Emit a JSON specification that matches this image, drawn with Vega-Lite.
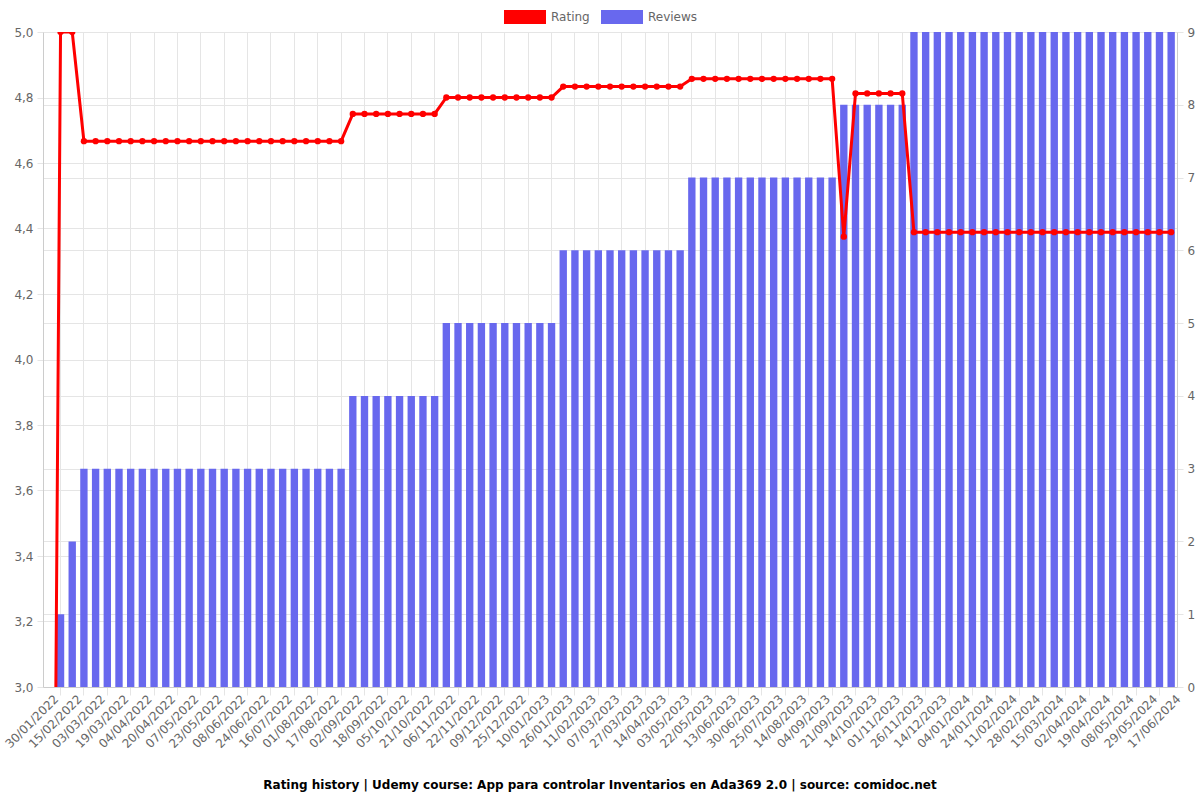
{
  "$schema": "https://vega.github.io/schema/vega-lite/v6.json",
  "width": 1134,
  "height": 655,
  "autosize": {"type": "none"},
  "padding": {"left": 43, "top": 32, "right": 23, "bottom": 113},
  "background": "white",
  "config": {
    "font": "DejaVu Sans",
    "view": {"stroke": null},
    "axis": {"labelFont": "DejaVu Sans", "labelFontSize": 12, "labelColor": "#666666", "gridColor": "#e5e5e5", "tickColor": "#e5e5e5", "domainColor": "#cccccc", "title": null}
  },
  "title": {
    "text": "Rating history | Udemy course: App para controlar Inventarios en Ada369 2.0 | source: comidoc.net",
    "orient": "bottom", "anchor": "middle", "fontSize": 12, "fontWeight": "bold", "color": "#000000", "offset": 30, "dx": -10, "font": "DejaVu Sans"
  },
  "data": {"values": [
    {"d": "30/01/2022", "reviews": 0, "rating": 0},
    {"d": "07/02/2022", "reviews": 1, "rating": 5},
    {"d": "15/02/2022", "reviews": 2, "rating": 5},
    {"d": "23/02/2022", "reviews": 3, "rating": 4.6667},
    {"d": "03/03/2022", "reviews": 3, "rating": 4.6667},
    {"d": "11/03/2022", "reviews": 3, "rating": 4.6667},
    {"d": "19/03/2022", "reviews": 3, "rating": 4.6667},
    {"d": "27/03/2022", "reviews": 3, "rating": 4.6667},
    {"d": "04/04/2022", "reviews": 3, "rating": 4.6667},
    {"d": "12/04/2022", "reviews": 3, "rating": 4.6667},
    {"d": "20/04/2022", "reviews": 3, "rating": 4.6667},
    {"d": "28/04/2022", "reviews": 3, "rating": 4.6667},
    {"d": "07/05/2022", "reviews": 3, "rating": 4.6667},
    {"d": "15/05/2022", "reviews": 3, "rating": 4.6667},
    {"d": "23/05/2022", "reviews": 3, "rating": 4.6667},
    {"d": "31/05/2022", "reviews": 3, "rating": 4.6667},
    {"d": "08/06/2022", "reviews": 3, "rating": 4.6667},
    {"d": "16/06/2022", "reviews": 3, "rating": 4.6667},
    {"d": "24/06/2022", "reviews": 3, "rating": 4.6667},
    {"d": "05/07/2022", "reviews": 3, "rating": 4.6667},
    {"d": "16/07/2022", "reviews": 3, "rating": 4.6667},
    {"d": "24/07/2022", "reviews": 3, "rating": 4.6667},
    {"d": "01/08/2022", "reviews": 3, "rating": 4.6667},
    {"d": "09/08/2022", "reviews": 3, "rating": 4.6667},
    {"d": "17/08/2022", "reviews": 3, "rating": 4.6667},
    {"d": "25/08/2022", "reviews": 3, "rating": 4.6667},
    {"d": "02/09/2022", "reviews": 4, "rating": 4.75},
    {"d": "10/09/2022", "reviews": 4, "rating": 4.75},
    {"d": "18/09/2022", "reviews": 4, "rating": 4.75},
    {"d": "26/09/2022", "reviews": 4, "rating": 4.75},
    {"d": "05/10/2022", "reviews": 4, "rating": 4.75},
    {"d": "13/10/2022", "reviews": 4, "rating": 4.75},
    {"d": "21/10/2022", "reviews": 4, "rating": 4.75},
    {"d": "29/10/2022", "reviews": 4, "rating": 4.75},
    {"d": "06/11/2022", "reviews": 5, "rating": 4.8},
    {"d": "14/11/2022", "reviews": 5, "rating": 4.8},
    {"d": "22/11/2022", "reviews": 5, "rating": 4.8},
    {"d": "30/11/2022", "reviews": 5, "rating": 4.8},
    {"d": "09/12/2022", "reviews": 5, "rating": 4.8},
    {"d": "17/12/2022", "reviews": 5, "rating": 4.8},
    {"d": "25/12/2022", "reviews": 5, "rating": 4.8},
    {"d": "02/01/2023", "reviews": 5, "rating": 4.8},
    {"d": "10/01/2023", "reviews": 5, "rating": 4.8},
    {"d": "18/01/2023", "reviews": 5, "rating": 4.8},
    {"d": "26/01/2023", "reviews": 6, "rating": 4.8333},
    {"d": "03/02/2023", "reviews": 6, "rating": 4.8333},
    {"d": "11/02/2023", "reviews": 6, "rating": 4.8333},
    {"d": "23/02/2023", "reviews": 6, "rating": 4.8333},
    {"d": "07/03/2023", "reviews": 6, "rating": 4.8333},
    {"d": "17/03/2023", "reviews": 6, "rating": 4.8333},
    {"d": "27/03/2023", "reviews": 6, "rating": 4.8333},
    {"d": "05/04/2023", "reviews": 6, "rating": 4.8333},
    {"d": "14/04/2023", "reviews": 6, "rating": 4.8333},
    {"d": "24/04/2023", "reviews": 6, "rating": 4.8333},
    {"d": "03/05/2023", "reviews": 6, "rating": 4.8333},
    {"d": "12/05/2023", "reviews": 7, "rating": 4.8571},
    {"d": "22/05/2023", "reviews": 7, "rating": 4.8571},
    {"d": "01/06/2023", "reviews": 7, "rating": 4.8571},
    {"d": "13/06/2023", "reviews": 7, "rating": 4.8571},
    {"d": "21/06/2023", "reviews": 7, "rating": 4.8571},
    {"d": "30/06/2023", "reviews": 7, "rating": 4.8571},
    {"d": "12/07/2023", "reviews": 7, "rating": 4.8571},
    {"d": "25/07/2023", "reviews": 7, "rating": 4.8571},
    {"d": "04/08/2023", "reviews": 7, "rating": 4.8571},
    {"d": "14/08/2023", "reviews": 7, "rating": 4.8571},
    {"d": "24/08/2023", "reviews": 7, "rating": 4.8571},
    {"d": "04/09/2023", "reviews": 7, "rating": 4.8571},
    {"d": "12/09/2023", "reviews": 7, "rating": 4.8571},
    {"d": "21/09/2023", "reviews": 8, "rating": 4.375},
    {"d": "02/10/2023", "reviews": 8, "rating": 4.8125},
    {"d": "14/10/2023", "reviews": 8, "rating": 4.8125},
    {"d": "23/10/2023", "reviews": 8, "rating": 4.8125},
    {"d": "01/11/2023", "reviews": 8, "rating": 4.8125},
    {"d": "14/11/2023", "reviews": 8, "rating": 4.8125},
    {"d": "26/11/2023", "reviews": 9, "rating": 4.3889},
    {"d": "05/12/2023", "reviews": 9, "rating": 4.3889},
    {"d": "14/12/2023", "reviews": 9, "rating": 4.3889},
    {"d": "24/12/2023", "reviews": 9, "rating": 4.3889},
    {"d": "04/01/2024", "reviews": 9, "rating": 4.3889},
    {"d": "14/01/2024", "reviews": 9, "rating": 4.3889},
    {"d": "24/01/2024", "reviews": 9, "rating": 4.3889},
    {"d": "02/02/2024", "reviews": 9, "rating": 4.3889},
    {"d": "11/02/2024", "reviews": 9, "rating": 4.3889},
    {"d": "20/02/2024", "reviews": 9, "rating": 4.3889},
    {"d": "28/02/2024", "reviews": 9, "rating": 4.3889},
    {"d": "07/03/2024", "reviews": 9, "rating": 4.3889},
    {"d": "15/03/2024", "reviews": 9, "rating": 4.3889},
    {"d": "24/03/2024", "reviews": 9, "rating": 4.3889},
    {"d": "02/04/2024", "reviews": 9, "rating": 4.3889},
    {"d": "10/04/2024", "reviews": 9, "rating": 4.3889},
    {"d": "19/04/2024", "reviews": 9, "rating": 4.3889},
    {"d": "28/04/2024", "reviews": 9, "rating": 4.3889},
    {"d": "08/05/2024", "reviews": 9, "rating": 4.3889},
    {"d": "18/05/2024", "reviews": 9, "rating": 4.3889},
    {"d": "29/05/2024", "reviews": 9, "rating": 4.3889},
    {"d": "07/06/2024", "reviews": 9, "rating": 4.3889},
    {"d": "17/06/2024", "reviews": 9, "rating": 4.3889}
  ]},
  "layer": [
    {
      "mark": {"type": "bar", "clip": true},
      "encoding": {
        "x": {"field": "d", "type": "ordinal", "sort": null,
          "scale": {"paddingInner": 0.37, "paddingOuter": 0.185},
          "axis": {"orient": "bottom", "labels": false, "ticks": true, "tickSize": 8, "grid": true, "domain": true,
            "values": ["07/02/2022","23/02/2022","11/03/2022","27/03/2022","12/04/2022","28/04/2022","15/05/2022","31/05/2022","16/06/2022","05/07/2022","24/07/2022","09/08/2022","25/08/2022","10/09/2022","26/09/2022","13/10/2022","29/10/2022","14/11/2022","30/11/2022","17/12/2022","02/01/2023","18/01/2023","03/02/2023","23/02/2023","17/03/2023","05/04/2023","24/04/2023","12/05/2023","01/06/2023","21/06/2023","12/07/2023","04/08/2023","24/08/2023","12/09/2023","02/10/2023","23/10/2023","14/11/2023","05/12/2023","24/12/2023","14/01/2024","02/02/2024","20/02/2024","07/03/2024","24/03/2024","10/04/2024","28/04/2024","18/05/2024","07/06/2024"]}},
        "y": {"field": "reviews", "type": "quantitative",
          "scale": {"domain": [0, 9], "nice": false},
          "axis": {"orient": "right", "values": [0,1,2,3,4,5,6,7,8,9], "tickSize": 6, "labelPadding": 4, "grid": true, "domain": true}},
        "color": {"datum": "Reviews", "type": "nominal",
          "scale": {"domain": ["Rating", "Reviews"], "range": ["#ff0000", "#6868ee"]},
          "legend": {"orient": "none", "legendX": 461, "legendY": -36, "direction": "horizontal", "title": null,
            "symbolType": "M-1,-0.3333H1V0.3333H-1Z", "symbolSize": 1764, "symbolStrokeWidth": 0,
            "labelFontSize": 12, "labelColor": "#666666", "labelFont": "DejaVu Sans", "labelOffset": 5, "columnPadding": 11,
            "encode": {"symbols": {"update": {"fill": {"scale": "color", "field": "value"}, "opacity": {"value": 1}}}}}}
      }
    },
    {
      "layer": [
        {
          "mark": {"type": "line", "clip": true, "strokeWidth": 3, "color": "#ff0000"},
          "encoding": {
            "x": {"field": "d", "type": "ordinal", "sort": null,
              "axis": {"orient": "bottom", "ticks": false, "grid": false, "domain": false, "labelAngle": -45, "labelPadding": 6, "labelOffset": 4,
                "values": ["30/01/2022","15/02/2022","03/03/2022","19/03/2022","04/04/2022","20/04/2022","07/05/2022","23/05/2022","08/06/2022","24/06/2022","16/07/2022","01/08/2022","17/08/2022","02/09/2022","18/09/2022","05/10/2022","21/10/2022","06/11/2022","22/11/2022","09/12/2022","25/12/2022","10/01/2023","26/01/2023","11/02/2023","07/03/2023","27/03/2023","14/04/2023","03/05/2023","22/05/2023","13/06/2023","30/06/2023","25/07/2023","14/08/2023","04/09/2023","21/09/2023","14/10/2023","01/11/2023","26/11/2023","14/12/2023","04/01/2024","24/01/2024","11/02/2024","28/02/2024","15/03/2024","02/04/2024","19/04/2024","08/05/2024","29/05/2024","17/06/2024"]}},
            "y": {"field": "rating", "type": "quantitative",
              "scale": {"domain": [3, 5], "nice": false, "zero": false},
              "axis": {"orient": "left", "values": [3,3.2,3.4,3.6,3.8,4,4.2,4.4,4.6,4.8,5], "tickSize": 6, "labelPadding": 4, "grid": true, "domain": true,
                "labelExpr": "replace(format(datum.value, '.1f'), '.', ',')"}},
            "color": {"datum": "Rating", "type": "nominal"}
          }
        },
        {
          "mark": {"type": "point", "clip": true, "filled": true, "size": 40, "color": "#ff0000", "opacity": 1},
          "encoding": {
            "x": {"field": "d", "type": "ordinal", "sort": null},
            "y": {"field": "rating", "type": "quantitative"}
          }
        }
      ]
    }
  ],
  "resolve": {"scale": {"y": "independent"}, "axis": {"x": "independent"}}
}
